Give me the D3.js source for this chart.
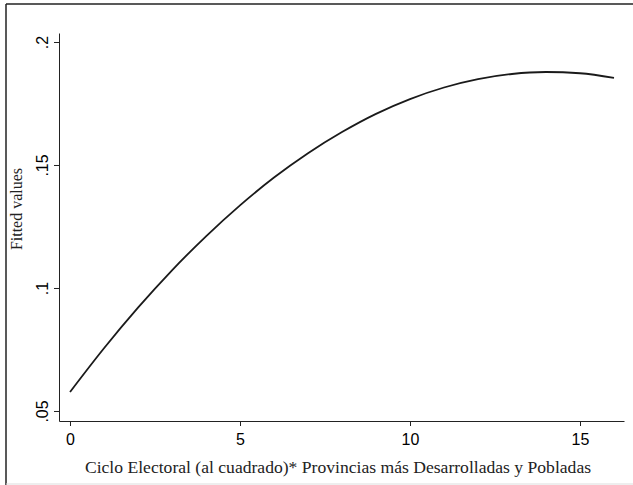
<!DOCTYPE html>
<html>
<head>
<meta charset="utf-8">
<script src="https://cdn.jsdelivr.net/npm/d3@7"></script>
<style>
  body { margin: 0; background: #fff; }
  svg { display: block; }
  .tick text { font-family: "Liberation Sans", Arial, sans-serif; font-size: 16px; fill: #000; }
  .tick line, .domain { stroke: #222; }
</style>
</head>
<body>
<div class="graph"></div>
<script>
// Valores (fitted values)
const cicloX = [0, 1, 2, 3, 4, 5, 6, 7, 8, 9, 10, 11, 12, 13, 14, 15, 16];
const fittedY = [0.0577, 0.0755, 0.0920, 0.1072, 0.1210, 0.1336, 0.1449, 0.1548,
                 0.1634, 0.1708, 0.1768, 0.1815, 0.1849, 0.1870, 0.1878, 0.1873, 0.1854];
const xTicks = [0, 5, 10, 15];
const yTicks = [0.05, 0.1, 0.15, 0.2];
const yTickLabels = [".05", ".1", ".15", ".2"];

const width = 633;
const height = 485;

const svg = d3.select(".graph")
    .append("svg")
    .attr("width", width)
    .attr("height", height);

// Marco exterior
svg.append("line").attr("x1", 6).attr("y1", 4).attr("x2", 633).attr("y2", 4)
    .attr("stroke", "#222").attr("stroke-width", 1.5);
svg.append("line").attr("x1", 6).attr("y1", 4).attr("x2", 6).attr("y2", 485)
    .attr("stroke", "#222").attr("stroke-width", 1.5);
svg.append("line").attr("x1", 6).attr("y1", 484).attr("x2", 633).attr("y2", 484)
    .attr("stroke", "#ddd").attr("stroke-width", 1);

// Escalas
const xScale = d3.scaleLinear().domain([-0.3235, 16.294]).range([59, 624]);
const yScale = d3.scaleLinear().domain([0.04593, 0.20366]).range([421, 33]);

// Eje X
svg.append("g")
    .attr("transform", "translate(0, 421)")
    .call(d3.axisBottom(xScale).tickValues(xTicks).tickSize(5).tickSizeOuter(0).tickPadding(8))
    .call(g => g.selectAll(".tick line").attr("stroke", "#888"));

// Eje Y
svg.append("g")
    .attr("transform", "translate(59, 0)")
    .call(d3.axisLeft(yScale).tickValues(yTicks).tickSize(5).tickSizeOuter(0)
        .tickFormat((d, i) => yTickLabels[i]))
    .call(g => g.selectAll(".tick text")
        .attr("transform", "rotate(-90)")
        .attr("x", 0)
        .attr("y", -11)
        .attr("dy", 0)
        .attr("text-anchor", "middle"));

// Títulos
svg.append("text")
    .attr("x", 338)
    .attr("y", 473)
    .attr("text-anchor", "middle")
    .style("font-family", "'Liberation Serif', 'Times New Roman', serif")
    .style("font-size", "17.6px")
    .style("fill", "#222")
    .text("Ciclo Electoral (al cuadrado)* Provincias más Desarrolladas y Pobladas");

svg.append("text")
    .attr("transform", "translate(22, 209) rotate(-90)")
    .attr("text-anchor", "middle")
    .style("font-family", "'Liberation Serif', 'Times New Roman', serif")
    .style("font-size", "16px")
    .style("fill", "#222")
    .text("Fitted values");

// Curva
const line = d3.line()
    .x(d => xScale(d[0]))
    .y(d => yScale(d[1]))
    .curve(d3.curveMonotoneX);

svg.append("path")
    .datum(cicloX.map((x, i) => [x, fittedY[i]]))
    .attr("fill", "none")
    .attr("stroke", "#1a1a1a")
    .attr("stroke-width", 1.8)
    .attr("d", line);
</script>
</body>
</html>
